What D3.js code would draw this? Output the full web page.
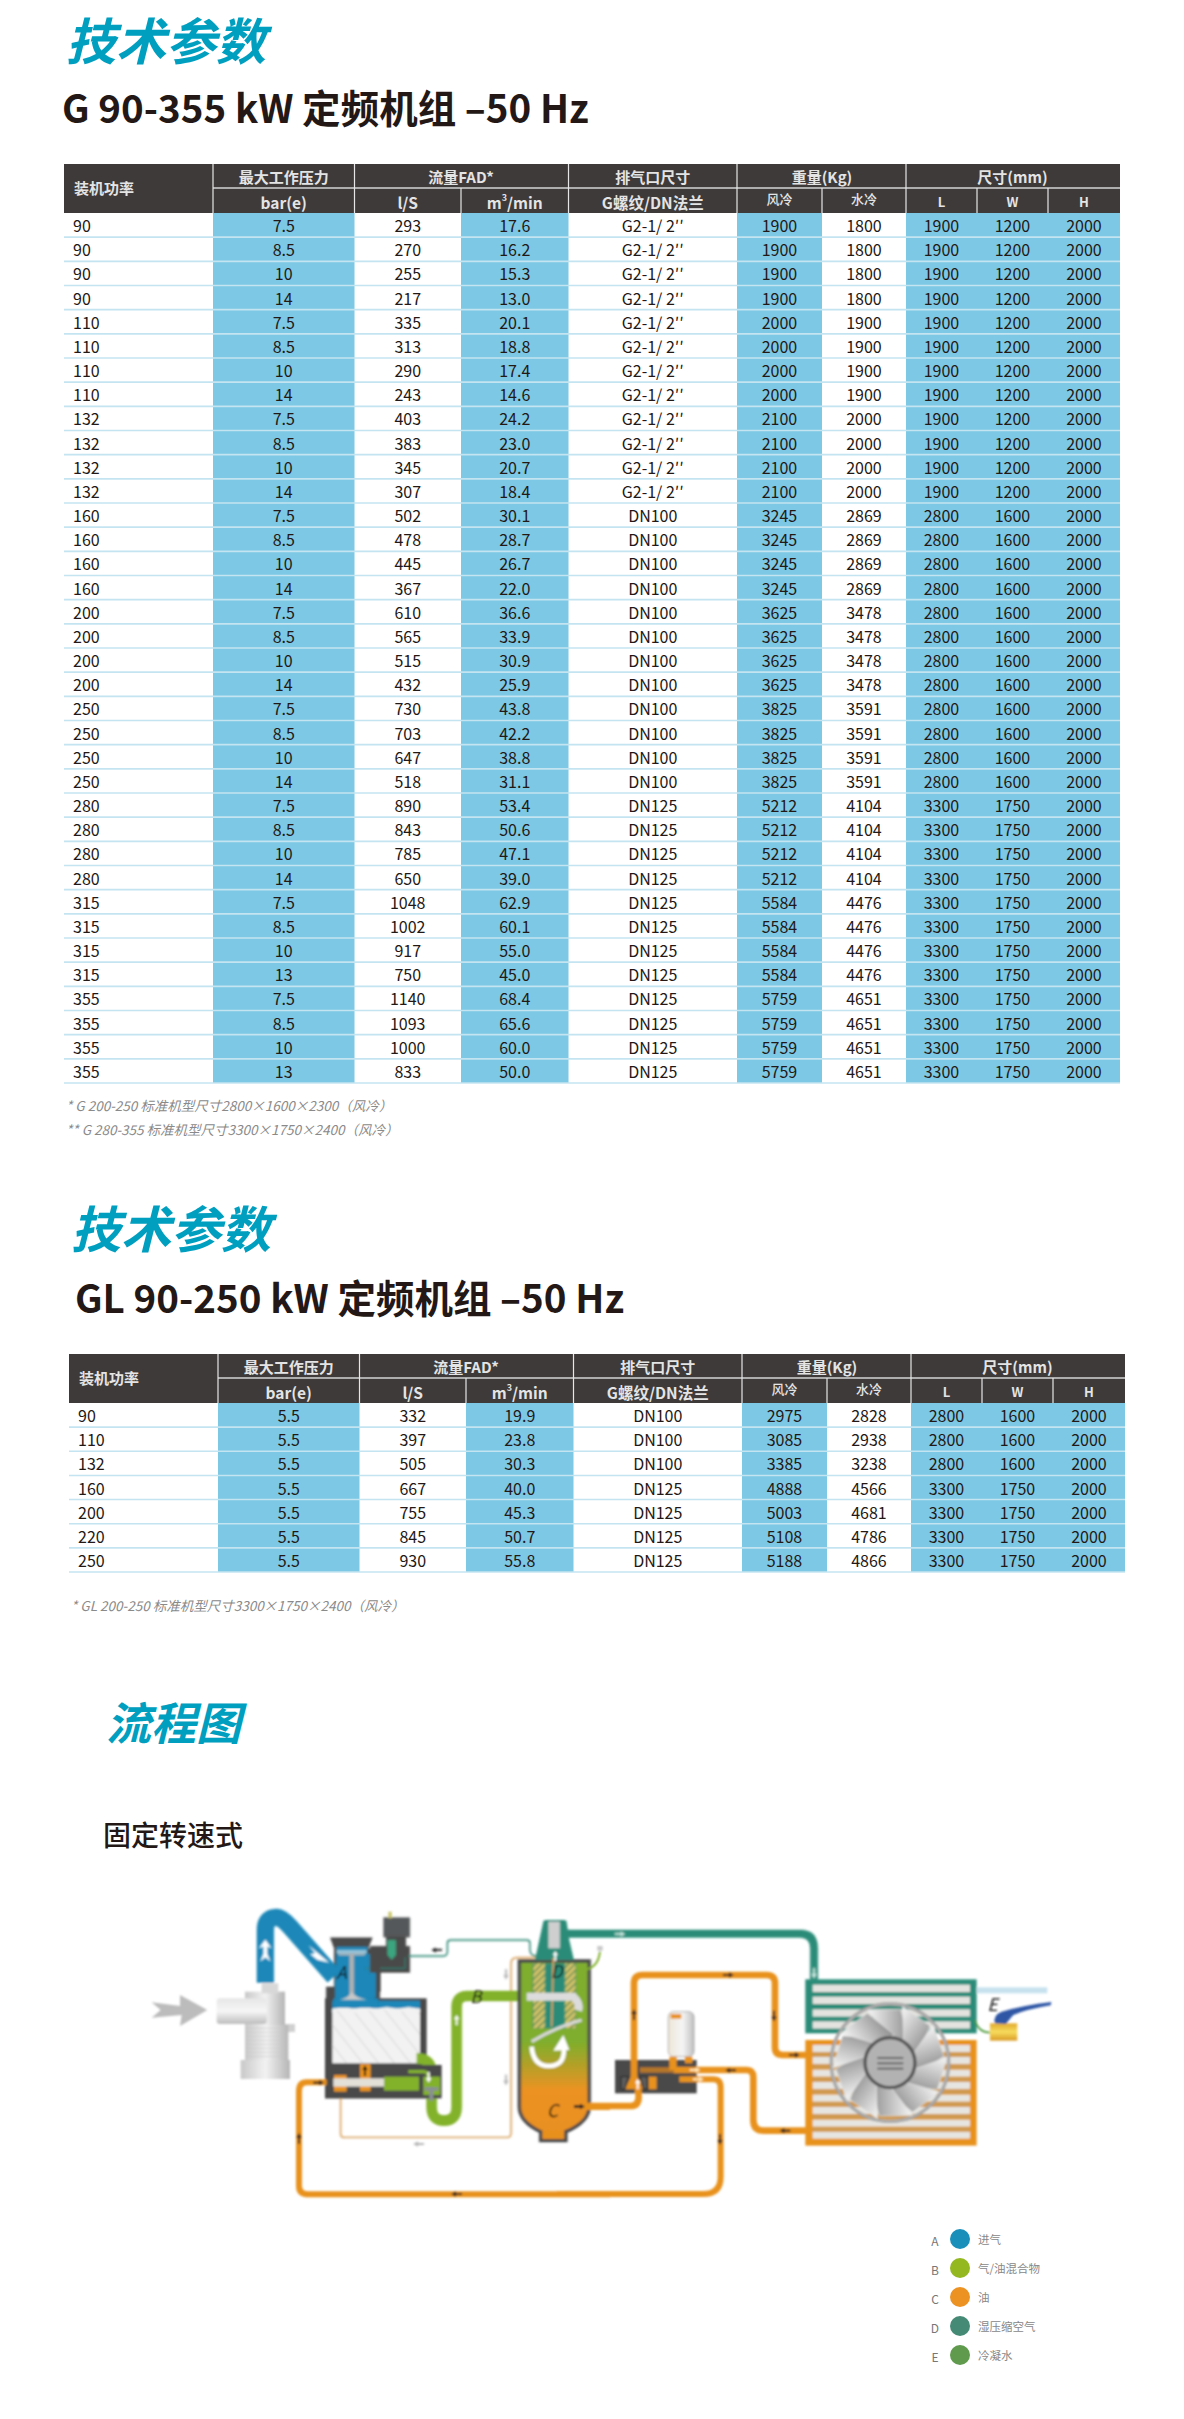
<!DOCTYPE html>
<html>
<head>
<meta charset="utf-8">
<script src="https://cdn.jsdelivr.net/npm/d3@7/dist/d3.min.js"></script>
<style>
  html, body { margin: 0; padding: 0; background: #fff; }
  svg { display: block; }
  text { font-family: "Noto Sans CJK SC", "Noto Sans", sans-serif; }
</style>
</head>
<body>
<div id="chart"></div>
<script>
// table 1: G 90-355 kW
let power1 = [90,90,90,90,110,110,110,110,132,132,132,132,160,160,160,160,200,200,200,200,250,250,250,250,280,280,280,280,315,315,315,315,355,355,355,355];
let pressure1 = [7.5,8.5,10,14,7.5,8.5,10,14,7.5,8.5,10,14,7.5,8.5,10,14,7.5,8.5,10,14,7.5,8.5,10,14,7.5,8.5,10,14,7.5,8.5,10,13,7.5,8.5,10,13];
let flowLs1 = [293,270,255,217,335,313,290,243,403,383,345,307,502,478,445,367,610,565,515,432,730,703,647,518,890,843,785,650,1048,1002,917,750,1140,1093,1000,833];
let flowM31 = ["17.6","16.2","15.3","13.0","20.1","18.8","17.4","14.6","24.2","23.0","20.7","18.4","30.1","28.7","26.7","22.0","36.6","33.9","30.9","25.9","43.8","42.2","38.8","31.1","53.4","50.6","47.1","39.0","62.9","60.1","55.0","45.0","68.4","65.6","60.0","50.0"];
let g2 = "G2-1/ 2′′";
let port1 = [g2,g2,g2,g2,g2,g2,g2,g2,g2,g2,g2,g2,"DN100","DN100","DN100","DN100","DN100","DN100","DN100","DN100","DN100","DN100","DN100","DN100","DN125","DN125","DN125","DN125","DN125","DN125","DN125","DN125","DN125","DN125","DN125","DN125"];
let weightAir1 = [1900,1900,1900,1900,2000,2000,2000,2000,2100,2100,2100,2100,3245,3245,3245,3245,3625,3625,3625,3625,3825,3825,3825,3825,5212,5212,5212,5212,5584,5584,5584,5584,5759,5759,5759,5759];
let weightWater1 = [1800,1800,1800,1800,1900,1900,1900,1900,2000,2000,2000,2000,2869,2869,2869,2869,3478,3478,3478,3478,3591,3591,3591,3591,4104,4104,4104,4104,4476,4476,4476,4476,4651,4651,4651,4651];
let dimL1 = [1900,1900,1900,1900,1900,1900,1900,1900,1900,1900,1900,1900,2800,2800,2800,2800,2800,2800,2800,2800,2800,2800,2800,2800,3300,3300,3300,3300,3300,3300,3300,3300,3300,3300,3300,3300];
let dimW1 = [1200,1200,1200,1200,1200,1200,1200,1200,1200,1200,1200,1200,1600,1600,1600,1600,1600,1600,1600,1600,1600,1600,1600,1600,1750,1750,1750,1750,1750,1750,1750,1750,1750,1750,1750,1750];
let dimH1 = [2000,2000,2000,2000,2000,2000,2000,2000,2000,2000,2000,2000,2000,2000,2000,2000,2000,2000,2000,2000,2000,2000,2000,2000,2000,2000,2000,2000,2000,2000,2000,2000,2000,2000,2000,2000];

// table 2: GL 90-250 kW
let power2 = [90,110,132,160,200,220,250];
let pressure2 = [5.5,5.5,5.5,5.5,5.5,5.5,5.5];
let flowLs2 = [332,397,505,667,755,845,930];
let flowM32 = ["19.9","23.8","30.3","40.0","45.3","50.7","55.8"];
let port2 = ["DN100","DN100","DN100","DN125","DN125","DN125","DN125"];
let weightAir2 = [2975,3085,3385,4888,5003,5108,5188];
let weightWater2 = [2828,2938,3238,4566,4681,4786,4866];
let dimL2 = [2800,2800,2800,3300,3300,3300,3300];
let dimW2 = [1600,1600,1600,1750,1750,1750,1750];
let dimH2 = [2000,2000,2000,2000,2000,2000,2000];

let columns = ["power","pressure","flowLs","flowM3","port","weightAir","weightWater","dimL","dimW","dimH"];
let blueColumns = ["pressure","flowM3","weightAir","dimL","dimW","dimH"];
let subHeads = ["bar(e)","l/S",null,"G螺纹/DN法兰","风冷","水冷","L","W","H"];
let legendLetters = ["A","B","C","D","E"];
let legendLabels = ["进气","气/油混合物","油","湿压缩空气","冷凝水"];
let legendColors = ["#1a8fba","#94b81f","#ec9223","#458a75","#5f9a4d"];

let inkColor = "#231815";
let headColor = "#3e3a39";
let blue = "#7dc8e4";
let teal = "#009fc0";
let colEdges = [64,213,354.5,461,568.5,737,822,906,977,1048,1120];

let svg = d3.select("#chart").append("svg").attr("width",1184).attr("height",2419);

function label(g, x, y, str, size, opts) {
  opts = opts || {};
  return g.append("text")
    .attr("x", x).attr("y", y)
    .attr("font-size", size)
    .attr("font-weight", opts.weight || 400)
    .attr("font-style", opts.italic ? "italic" : "normal")
    .attr("text-anchor", opts.anchor || "start")
    .attr("dominant-baseline", "central")
    .attr("fill", opts.fill || inkColor)
    .text(str);
}

function drawTable(dx, top, split, headBottom, bottom, rows) {
  let g = svg.append("g").attr("transform", `translate(${dx},0)`);
  let x = d3.scaleOrdinal().domain(columns).range(colEdges);
  let w = d3.scaleOrdinal().domain(columns).range(colEdges.slice(1).map((e, i) => e - colEdges[i]));
  let y = d3.scaleBand().domain(d3.range(rows.length)).range([headBottom, bottom]);
  let left = colEdges[0], right = colEdges[colEdges.length - 1];

  // blue columns
  g.selectAll("rect.blue").data(blueColumns).enter().append("rect")
    .attr("class", "blue")
    .attr("x", d => x(d)).attr("y", headBottom)
    .attr("width", d => w(d)).attr("height", bottom - headBottom)
    .attr("fill", blue);

  // row rules
  g.selectAll("line.rule").data(rows).enter().append("line")
    .attr("class", "rule")
    .attr("x1", left).attr("x2", right)
    .attr("y1", (d, i) => y(i) + y.bandwidth())
    .attr("y2", (d, i) => y(i) + y.bandwidth())
    .attr("stroke", "#c4e4f1").attr("stroke-width", 1.6);

  // header block
  g.append("rect").attr("x", left).attr("y", top)
    .attr("width", right - left).attr("height", headBottom - top).attr("fill", headColor);
  let sep = "#d4d4d4";
  g.append("line").attr("x1", x("pressure")).attr("x2", right)
    .attr("y1", split).attr("y2", split).attr("stroke", sep).attr("stroke-width", 1.5);
  [["pressure",top],["flowLs",top],["port",top],["weightAir",top],["dimL",top],
   ["flowM3",split],["weightWater",split],["dimW",split],["dimH",split]].forEach(([c, y0]) => {
    g.append("line").attr("x1", x(c)).attr("x2", x(c))
      .attr("y1", y0).attr("y2", headBottom)
      .attr("stroke", "#e6e6e6").attr("stroke-width", 1.2);
  });

  let midTop = (top + split) / 2, midSub = (split + headBottom) / 2 + 1;
  let center = c => x(c) + w(c) / 2;
  let white = "#e4e4e4";
  let head = { anchor: "middle", fill: white, weight: 700 };
  label(g, left + 10, (top + headBottom) / 2 - 1, "装机功率", 15, { fill: white, weight: 700 });
  label(g, center("pressure"), midTop, "最大工作压力", 15, head);
  label(g, x("flowM3"), midTop, "流量FAD*", 15, head);
  label(g, center("port"), midTop, "排气口尺寸", 15, head);
  label(g, x("weightWater"), midTop, "重量(Kg)", 15, head);
  label(g, x("dimW") + w("dimW") / 2, midTop, "尺寸(mm)", 15, head);

  columns.slice(1).forEach((c, i) => {
    if (c === "flowM3") {
      let t = label(g, center(c), midSub, "m", 15.5, head);
      t.append("tspan").attr("font-size", 9).attr("dy", -5).text("3");
      t.append("tspan").attr("dy", 5).text("/min");
      return;
    }
    let small = ["weightAir","weightWater","dimL","dimW","dimH"].includes(c);
    let bold = ["dimL","dimW","dimH"].includes(c);
    label(g, center(c), midSub - (small && !bold ? 3 : 0), subHeads[i], small ? 13 : 15.5,
      { anchor: "middle", fill: white, weight: small && !bold ? 500 : 700 });
  });

  // cells
  columns.forEach(c => {
    g.selectAll(null).data(rows).enter().append("text")
      .attr("x", c === "power" ? left + 9 : center(c))
      .attr("y", (d, i) => y(i) + y.bandwidth() / 2)
      .attr("font-size", 16)
      .attr("text-anchor", c === "power" ? "start" : "middle")
      .attr("dominant-baseline", "central")
      .attr("fill", inkColor)
      .text(d => d[c]);
  });
}

function rowsFrom(p, pr, fl, fm, po, wa, ww, l, w, h) {
  return p.map((d, i) => ({
    power: d, pressure: pr[i], flowLs: fl[i], flowM3: fm[i], port: po[i],
    weightAir: wa[i], weightWater: ww[i], dimL: l[i], dimW: w[i], dimH: h[i]
  }));
}

// titles
label(svg, 66, 38, "技术参数", 50, { fill: teal, weight: 700, italic: true });
label(svg, 62, 106, "G 90-355 kW 定频机组 –50 Hz", 38.5, { weight: 700 });
drawTable(0, 164, 188, 213, 1083,
  rowsFrom(power1, pressure1, flowLs1, flowM31, port1, weightAir1, weightWater1, dimL1, dimW1, dimH1));
label(svg, 66, 1105, "* G 200-250 标准机型尺寸2800×1600×2300（风冷）", 13.5, { italic: true, fill: "#8a8a8a" });
label(svg, 66, 1129, "**  G 280-355 标准机型尺寸3300×1750×2400（风冷）", 13.5, { italic: true, fill: "#8a8a8a" });

label(svg, 71, 1226, "技术参数", 50, { fill: teal, weight: 700, italic: true });
label(svg, 75, 1296, "GL 90-250 kW 定频机组 –50 Hz", 38.5, { weight: 700 });
drawTable(5, 1354, 1378, 1403, 1572,
  rowsFrom(power2, pressure2, flowLs2, flowM32, port2, weightAir2, weightWater2, dimL2, dimW2, dimH2));
label(svg, 71, 1605, "* GL 200-250 标准机型尺寸3300×1750×2400（风冷）", 13.5, { italic: true, fill: "#8a8a8a" });

label(svg, 106, 1720, "流程图", 45, { fill: teal, weight: 700, italic: true });
label(svg, 103, 1834, "固定转速式", 28, { weight: 500 });

// legend
let legendY = d3.scalePoint().domain(legendLetters).range([2239, 2355]);
let legend = svg.append("g");
legend.selectAll("circle").data(legendLetters).enter().append("circle")
  .attr("cx", 960).attr("cy", d => legendY(d)).attr("r", 10)
  .attr("fill", (d, i) => legendColors[i]);
legend.selectAll("text.letter").data(legendLetters).enter().append("text")
  .attr("class", "letter")
  .attr("x", 935).attr("y", d => legendY(d) + 1).attr("font-size", 12)
  .attr("text-anchor", "middle").attr("dominant-baseline", "central")
  .attr("fill", "#777").text(d => d);
legend.selectAll("text.name").data(legendLabels).enter().append("text")
  .attr("class", "name")
  .attr("x", 978).attr("y", (d, i) => legendY(legendLetters[i])).attr("font-size", 11.5)
  .attr("dominant-baseline", "central")
  .attr("fill", "#888").text(d => d);

// flow diagram, drawn in 3x units so it lines up with the picture
let defs = svg.append("defs");
function gradient(id, stops, vertical) {
  let lg = defs.append("linearGradient").attr("id", id)
    .attr("x1", 0).attr("y1", 0).attr("x2", vertical ? 0 : 1).attr("y2", vertical ? 1 : 0);
  stops.forEach(s => lg.append("stop").attr("offset", s[0]).attr("stop-color", s[1]));
}
gradient("tank", [[0,"#7fae2d"],[0.45,"#7fae2d"],[0.72,"#ec9223"],[1,"#e8901f"]], true);
gradient("cyl", [[0,"#e6e6e6"],[0.5,"#f6f6f6"],[1,"#bdbdbd"]], true);
gradient("cylV", [[0,"#c8c8c8"],[0.5,"#f2f2f2"],[1,"#b5b5b5"]], false);
gradient("filterBody", [[0,"#efe6d8"],[0.55,"#f5f5f5"],[1,"#c0c0c0"]], false);
gradient("blade", [[0,"#f6f6f6"],[1,"#8f8f8f"]], false);
gradient("brass", [[0,"#e2a92c"],[0.5,"#f7dc5e"],[1,"#d99a22"]], true);
defs.append("filter").attr("id", "soft").append("feGaussianBlur").attr("stdDeviation", 1.3);
let hatch = defs.append("pattern").attr("id", "hatch").attr("width", 14).attr("height", 14)
  .attr("patternUnits", "userSpaceOnUse").attr("patternTransform", "rotate(-45)");
hatch.append("rect").attr("width", 14).attr("height", 14).attr("fill", "#d9c66c");
hatch.append("rect").attr("width", 14).attr("height", 5).attr("fill", "#6f8f55");
defs.append("clipPath").attr("id", "rotorClip").append("rect")
  .attr("x", 607).attr("y", 385).attr("width", 263).attr("height", 165);

let diagram = svg.append("g").attr("filter", "url(#soft)");
let L = diagram.append("g").attr("transform", "translate(130,1880) scale(0.3333)");
let R = diagram.append("g").attr("transform", "translate(560,1880) scale(0.3333)");

function box(g, x, y, w, h, fill, rx) {
  return g.append("rect").attr("x", x).attr("y", y).attr("width", w).attr("height", h)
    .attr("fill", fill).attr("rx", rx || 0);
}
function pipe(g, d, color, width) {
  return g.append("path").attr("d", d).attr("fill", "none")
    .attr("stroke", color).attr("stroke-width", width);
}
function shape(g, d, fill) {
  return g.append("path").attr("d", d).attr("fill", fill);
}
function arrow(g, x, y, angle, color) {
  g.append("path").attr("d", "M-16,-3 H2 V-8 L16,0 L2,8 V3 H-16Z")
    .attr("transform", `translate(${x},${y}) rotate(${angle})`).attr("fill", color);
}
function tag(g, x, y, str) {
  g.append("text").attr("x", x).attr("y", y).attr("font-size", 52).attr("font-style", "italic")
    .attr("text-anchor", "middle").attr("dominant-baseline", "central")
    .attr("fill", "#111").text(str);
}

let orange = "#e8921f", green = "#82b22c", pipeTeal = "#2a8c78", dark = "#4a4a4a";

// intake arrow and filter
shape(L, "M65,367 L150,378 L150,345 L232,390 L150,438 L155,405 L65,413 L92,390Z", "#bcbcbc");
box(L, 345, 335, 120, 105, "url(#cylV)");
box(L, 395, 310, 50, 30, "#d8d8d8");
box(L, 260, 355, 150, 77, "url(#cyl)", 10);
box(L, 465, 432, 30, 24, "#d0d0d0");
box(L, 345, 435, 130, 110, "url(#cylV)");
d3.range(445, 540, 12).forEach(yy => L.append("line").attr("x1", 345).attr("x2", 475)
  .attr("y1", yy).attr("y2", yy).attr("stroke", "#c4c4c4").attr("stroke-width", 2));
box(L, 332, 540, 148, 57, "url(#cylV)");

// compressor casing and rotors
box(L, 585, 355, 305, 300, dark);
box(L, 607, 362, 263, 35, "#1a87b8");
box(L, 607, 385, 263, 165, "#f2f2f2");
let rotors = L.append("g").attr("clip-path", "url(#rotorClip)");
d3.range(520, 880, 48).forEach(xx => {
  pipe(rotors, `M${xx},385 Q${xx + 60},460 ${xx + 130},550`, "#d2d2d2", 3);
});
pipe(L, "M607,395 Q640,375 672,395 Q705,375 738,395 Q770,375 803,395 Q835,375 870,395", "#f2f2f2", 8);

// inlet valve
box(L, 588, 320, 162, 40, dark);
box(L, 612, 205, 140, 130, dark);
shape(L, "M600,172 H728 L715,205 H612Z", dark);
shape(L, "M620,200 H712 V222 H738 V352 H735 L735,365 H615 V310 Z", "#1a87b8");
box(L, 610, 355, 135, 28, "#1a87b8");
box(L, 620, 210, 90, 10, "#9cc7dc");
box(L, 625, 220, 80, 6, "#b8b8b8");
box(L, 658, 222, 14, 130, "#b0b0b0");
shape(L, "M628,360 Q660,350 665,335 Q672,350 712,360Z", "#c8c8c8");
pipe(L, "M706,265 H830", "#3a7f7a", 3);

// blue inlet pipe
pipe(L, "M406,308 V150 Q406,112 440,112 Q455,112 480,140 L612,290", "#1a87b8", 52);
shape(L, "M406,178 L425,205 L412,200 L412,222 L422,245 L406,232 L390,245 L400,222 L400,200 L386,205Z", "#fff");
shape(L, "M535,195 L598,248 L562,240 L540,222 L555,220Z", "#fff");

// solenoid
box(L, 760, 112, 80, 60, "#55585a");
box(L, 775, 95, 10, 20, "#c8c46a");
box(L, 720, 198, 120, 80, dark);
box(L, 768, 170, 60, 100, dark);
shape(L, "M772,180 H798 V225 L785,240 L772,225Z", "#3aa57f");
pipe(L, "M750,265 H825 V232", pipeTeal, 3);

// thin air line
pipe(L, "M835,228 H940 Q952,228 952,215 V190 Q952,180 962,180 H1190 Q1200,180 1200,190 V210 Q1200,228 1220,228", "#3b8f7c", 5);
arrow(L, 920, 210, 180, "#222");

// oil return thin line
pipe(L, "M632,640 V762 Q632,772 642,772 H1132 Q1143,772 1143,760 V250 Q1143,233 1160,233 H1230 Q1250,233 1252,260 L1265,440", "#d8a25f", 5);
arrow(L, 866, 792, 180, "#b5b5b5");
arrow(L, 1128, 283, 90, "#b5b5b5");
arrow(L, 1128, 600, 90, "#b5b5b5");

// green mixture pipe
pipe(L, "M860,535 Q905,535 905,580 V680 Q905,722 942,722 Q980,722 980,680 V380 Q980,348 1012,348 H1190", green, 32);
arrow(L, 980, 420, -90, "#fff");

// oil stop valve block
box(L, 585, 555, 350, 100, dark);
box(L, 690, 552, 32, 82, orange);
box(L, 612, 585, 38, 50, orange);
box(L, 610, 595, 152, 25, "#e3e0d8");
box(L, 762, 590, 105, 42, green);
box(L, 880, 590, 50, 55, green);
pipe(L, "M835,575 H880 Q895,575 895,595", green, 10);
box(L, 883, 622, 42, 10, "#8a8f96");
box(L, 898, 622, 12, 40, "#8a8f96");
arrow(L, 705, 572, -90, "#111");
arrow(L, 896, 592, 90, "#fff");

// separator tank
shape(L, "M1168,243 H1378 V680 Q1378,725 1308,755 V782 H1232 V755 Q1168,725 1168,680Z", "url(#tank)")
  .attr("stroke", dark).attr("stroke-width", 10);
box(L, 1208, 250, 130, 195, pipeTeal);
box(L, 1210, 250, 35, 195, "url(#hatch)");
box(L, 1305, 250, 32, 195, "url(#hatch)");
shape(L, "M1240,125 Q1240,120 1250,120 H1300 Q1310,120 1310,125 L1318,180 L1332,240 H1215 L1228,180Z", pipeTeal);
box(L, 1255, 125, 35, 80, "#cfcfcf");
arrow(L, 1276, 228, -90, "#fff");
pipe(L, "M1270,233 L1265,440", "#d8a25f", 5);
pipe(L, "M1190,350 H1330 Q1352,370 1345,392", "#dcdcdc", 24);
pipe(L, "M1205,500 Q1210,560 1260,558 Q1310,555 1300,495", "#fff", 14);
shape(L, "M1300,465 L1318,510 L1270,512Z", "#fff");
pipe(L, "M1205,485 Q1280,440 1355,420", "#d8d8d8", 10);
pipe(L, "M1370,268 Q1405,260 1410,215", green, 6);
box(L, 1402, 198, 16, 14, "#c9c9c9");
tag(L, 635, 275, "A");
tag(L, 1038, 348, "B");
tag(L, 1268, 688, "C");
tag(L, 1280, 272, "D");

// main oil return loop, left side
pipe(L, "M590,607 H530 Q507,607 507,635 V918 Q507,943 535,943 H1440", orange, 18);
arrow(L, 566, 608, 0, "#222");
arrow(L, 507, 775, -90, "#222");
arrow(L, 980, 942, 180, "#222");
pipe(L, "M1360,680 H1440", orange, 20);
arrow(L, 1348, 680, 0, "#222");

// right side: wet air pipe and cooler
pipe(R, "M10,161 H720 Q762,161 762,205 V300", pipeTeal, 24);
arrow(R, 180, 162, 0, "#cfe9e2");
arrow(R, 762, 280, 90, "#d5efe8");
box(R, 736, 298, 514, 162, pipeTeal);
[314, 350, 388, 424].forEach(yy => box(R, 758, yy, 472, 22, "#e4e3df"));
box(R, 736, 480, 514, 317, orange);
[495, 531, 569, 606, 644, 681, 719, 755].forEach(yy => box(R, 758, yy, 472, 21, "#e6e5e1"));
[517, 553, 591, 628, 666, 703, 741].forEach(yy => box(R, 758, yy, 472, 14, "#cf9a52"));

// fan
R.append("circle").attr("cx", 990).attr("cy", 548).attr("r", 176).attr("fill", "none")
  .attr("stroke", "#9a9a9a").attr("stroke-width", 10);
R.append("circle").attr("cx", 990).attr("cy", 548).attr("r", 176).attr("fill", "none")
  .attr("stroke", "#d8d8d8").attr("stroke-width", 2);
d3.range(0, 360, 36).forEach(a => {
  R.append("path").attr("d", "M0,-70 L-68,-158 L32,-160 L60,-60Z")
    .attr("transform", `translate(990,548) rotate(${a})`)
    .attr("fill", "url(#blade)").attr("stroke", "#e2e2e2").attr("stroke-width", 2);
});
R.append("circle").attr("cx", 990).attr("cy", 548).attr("r", 75)
  .attr("fill", "#b2b2b2").attr("stroke", "#555").attr("stroke-width", 10);
[534, 550, 566].forEach(yy => box(R, 952, yy - 3, 78, 6, "#666"));

// oil loop pipes
box(R, 165, 540, 245, 100, dark);
pipe(R, "M75,678 H212 Q236,678 236,650 L232,600", orange, 20);
pipe(R, "M222,600 V310 Q222,285 248,285 H620 Q645,285 645,310 V502 Q645,525 668,525 H738", orange, 20);
pipe(R, "M340,570 H560 Q580,570 580,592 V720 Q580,752 612,752 H738", orange, 20);
pipe(R, "M358,598 H460 Q482,598 482,622 V890 Q482,942 430,942 H-10", orange, 18);
pipe(R, "M240,570 H340", "#b5762a", 16);
shape(R, "M195,628 L222,570 L250,628Z", orange);
shape(R, "M183,590 H205 L195,628 H183Z", "#5c5c5c").attr("stroke", "#222").attr("stroke-width", 3);
shape(R, "M240,590 H262 V628 H250Z", "#5c5c5c").attr("stroke", "#222").attr("stroke-width", 3);
box(R, 266, 590, 24, 38, orange);
box(R, 325, 395, 77, 135, "url(#filterBody)", 16)
  .attr("stroke", "#8a8a8a").attr("stroke-width", 2);
box(R, 332, 402, 32, 14, orange);
box(R, 328, 530, 22, 40, orange);
box(R, 375, 530, 22, 20, orange);
arrow(R, 222, 404, -90, "#222");
arrow(R, 505, 285, 0, "#222");
arrow(R, 642, 408, 90, "#222");
arrow(R, 703, 525, 0, "#222");
arrow(R, 512, 571, 180, "#222");
arrow(R, 675, 752, 180, "#222");
arrow(R, 480, 778, 90, "#222");
arrow(R, 58, 679, 0, "#222");
arrow(R, 405, 570, 0, "#ffe9b8");
arrow(R, 415, 598, 0, "#ffe9b8");
arrow(R, 233, 612, -90, "#fff");

// condensate drain
box(R, 1250, 322, 212, 18, "#c7e2ee");
pipe(R, "M1245,420 Q1255,458 1292,458", "#4a9a3a", 5);
box(R, 1290, 430, 82, 52, "url(#brass)");
shape(R, "M1305,430 Q1298,405 1325,395 Q1390,376 1475,366 L1472,376 Q1400,388 1360,405 Q1345,422 1338,432Z", "#2f56a5");
tag(R, 1298, 370, "E");
</script>
</body>
</html>
